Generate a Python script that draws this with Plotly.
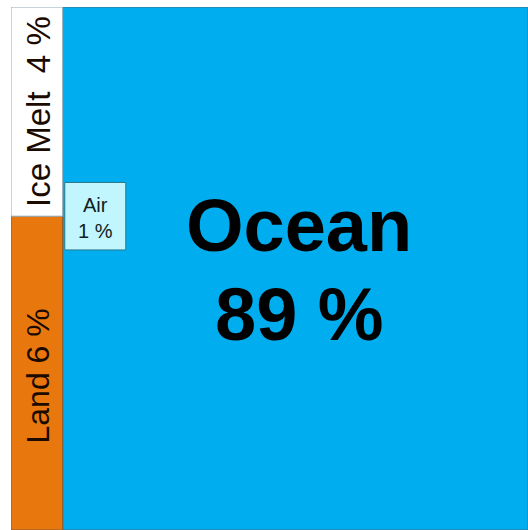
import plotly.graph_objects as go

# ---- data ----
categories = ["Ocean", "Land", "Ice Melt", "Air"]
shares = [89, 6, 4, 1]          # percent
labels = ["Ocean<br>89 %", "Land 6 %", "Ice Melt  4 %", "Air<br>1 %"]

# ---- styles ----
fill_colors = {"Ocean": "#00ADEE", "Land": "#E8780E", "Ice Melt": "#FFFFFF", "Air": "#C2F6FF"}
line_colors = {"Ocean": "#3C6E80", "Land": "#8A5A30", "Ice Melt": "#8FA9B8", "Air": "#2C7A8A"}
FONT = "Liberation Sans, Arial, sans-serif"
AIR_BOX_W = 0.118   # layout size of the small Air box (axis fraction)
AIR_BOX_H = 0.129

val = dict(zip(categories, shares))
total = sum(shares)

# left column holds Land (bottom) and Ice Melt (top), width proportional to their share
left_w = (val["Land"] + val["Ice Melt"]) / total
land_h = val["Land"] / (val["Land"] + val["Ice Melt"])

rects = {
    "Ocean": (left_w, 0.0, 1.0, 1.0),
    "Land": (0.0, 0.0, left_w, land_h),
    "Ice Melt": (0.0, land_h, left_w, 1.0),
    "Air": (left_w + 0.004, land_h - AIR_BOX_H / 2, left_w + 0.004 + AIR_BOX_W, land_h + AIR_BOX_H / 2),
}

fig = go.Figure()
fig.add_trace(go.Scatter(x=[0, 1], y=[0, 1], mode="markers", marker=dict(opacity=0), hoverinfo="skip", showlegend=False))

shapes = []
for c in ["Ocean", "Land", "Ice Melt", "Air"]:
    x0, y0, x1, y1 = rects[c]
    shapes.append(dict(type="rect", xref="x", yref="y", x0=x0, y0=y0, x1=x1, y1=y1,
                       fillcolor=fill_colors[c], line=dict(color=line_colors[c], width=1), layer="below"))

annotations = []
# Ocean: two lines, bold and large
ox = (rects["Ocean"][0] + rects["Ocean"][2]) / 2 + 0.008
oy = 0.5
annotations.append(dict(x=ox, y=oy, xref="x", yref="y", text="<b>Ocean</b>", showarrow=False,
                        yshift=43, font=dict(family=FONT, size=74, color="#000000")))
annotations.append(dict(x=ox, y=oy, xref="x", yref="y", text="<b>%d %%</b>" % val["Ocean"], showarrow=False,
                        yshift=-46, font=dict(family=FONT, size=74, color="#000000")))
# Land and Ice Melt: rotated labels
for c, sz, dy in [("Land", 32, -3), ("Ice Melt", 33, 0)]:
    x0, y0, x1, y1 = rects[c]
    annotations.append(dict(x=(x0 + x1) / 2 + 0.003, y=(y0 + y1) / 2, xref="x", yref="y",
                            text=labels[categories.index(c)], textangle=-90, showarrow=False,
                            yshift=dy, font=dict(family=FONT, size=sz, color="#1A0A00")))
# Air
x0, y0, x1, y1 = rects["Air"]
annotations.append(dict(x=(x0 + x1) / 2, y=(y0 + y1) / 2, xref="x", yref="y",
                        text=labels[categories.index("Air")], showarrow=False, yshift=-2,
                        font=dict(family=FONT, size=20, color="#102020")))

fig.update_layout(
    width=528, height=530,
    margin=dict(l=11, r=0, t=7, b=0),
    paper_bgcolor="white", plot_bgcolor="white",
    xaxis=dict(range=[0, 1], visible=False, fixedrange=True),
    yaxis=dict(range=[0, 1], visible=False, fixedrange=True),
    shapes=shapes, annotations=annotations, showlegend=False,
)

fig.write_html("out.html", config={"displayModeBar": False},
               post_script="document.body.style.margin='0';document.body.style.overflow='hidden';")
